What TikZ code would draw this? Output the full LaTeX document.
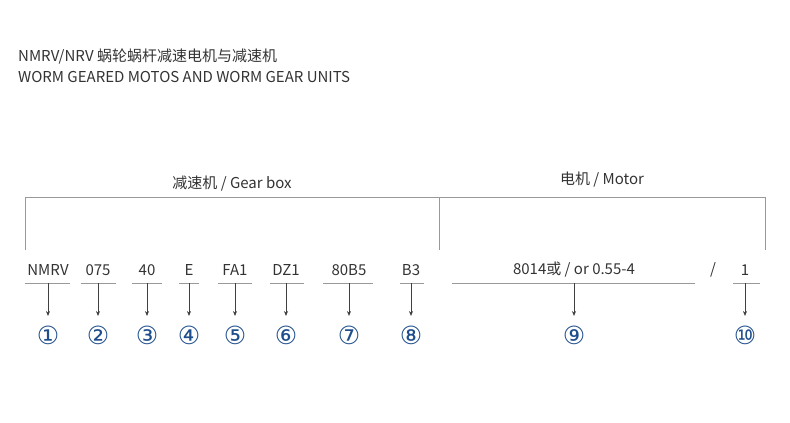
\documentclass[tikz,border=0pt]{standalone}
\usepackage{fontspec}
\usetikzlibrary{arrows.meta}
\setmainfont{Noto Sans CJK SC}
\newfontfamily\circfont{DejaVu Sans}
\definecolor{cblue}{HTML}{1F4E8C}
\definecolor{tgray}{HTML}{333333}
\begin{document}
\begin{tikzpicture}[x=1pt,y=-1pt,
  lab/.style={font=\fontsize{15}{17}\selectfont,text=tgray,inner sep=0},
  num/.style={font=\circfont\fontsize{25}{26}\selectfont,text=cblue,inner sep=0},
  uline/.style={draw=gray!80,line width=0.7pt},
  arr/.style={draw=black!75,line width=0.7pt,-{Stealth[length=5pt,width=4pt]}}]
\useasboundingbox (0,0) rectangle (790,423);
\node[lab,anchor=west] (t1) at (18,57) {NMRV/NRV 蜗轮蜗杆减速电机与减速机};
\node[lab,anchor=west] (t2) at (18,77) {WORM GEARED MOTOS AND WORM GEAR UNITS};
\draw[gray!80,line width=0.8pt] (25,250) -- (25,197) -- (765,197) -- (765,250);
\draw[gray!80,line width=0.8pt] (439,197) -- (439,250);
\node[lab] (gb) at (232,184) {减速机 / Gear box};
\node[lab] (mo) at (602,180) {电机 / Motor};
\foreach \n/\x/\a/\b/\t/\c in {1/48/25/70/NMRV/①,2/98/81/116/075/②,3/147/132/162/40/③,4/189/179/199/E/④,5/235/218/252/FA1/⑤,6/286/270/304/DZ1/⑥,7/349/323/373/80B5/⑦,8/411/400/424/B3/⑧,9/574/452/695/{8014或 / or 0.55-4}/⑨,10/745/733/760/1/⑩}{
  \node[lab] (c\n) at (\x,270) {\t};
  \coordinate (ua\n) at (\a,283);
  \coordinate (ub\n) at (\b,283);
  \coordinate (ut\n) at (\x,283);
  \draw[uline] (ua\n) -- (ub\n);
  \node[num] (n\n) at (\x,335) {\c};
  \draw[arr] (ut\n) -- (\x,316);
}
\node[lab] (sl) at (713,270) {/};
\end{tikzpicture}
\end{document}
